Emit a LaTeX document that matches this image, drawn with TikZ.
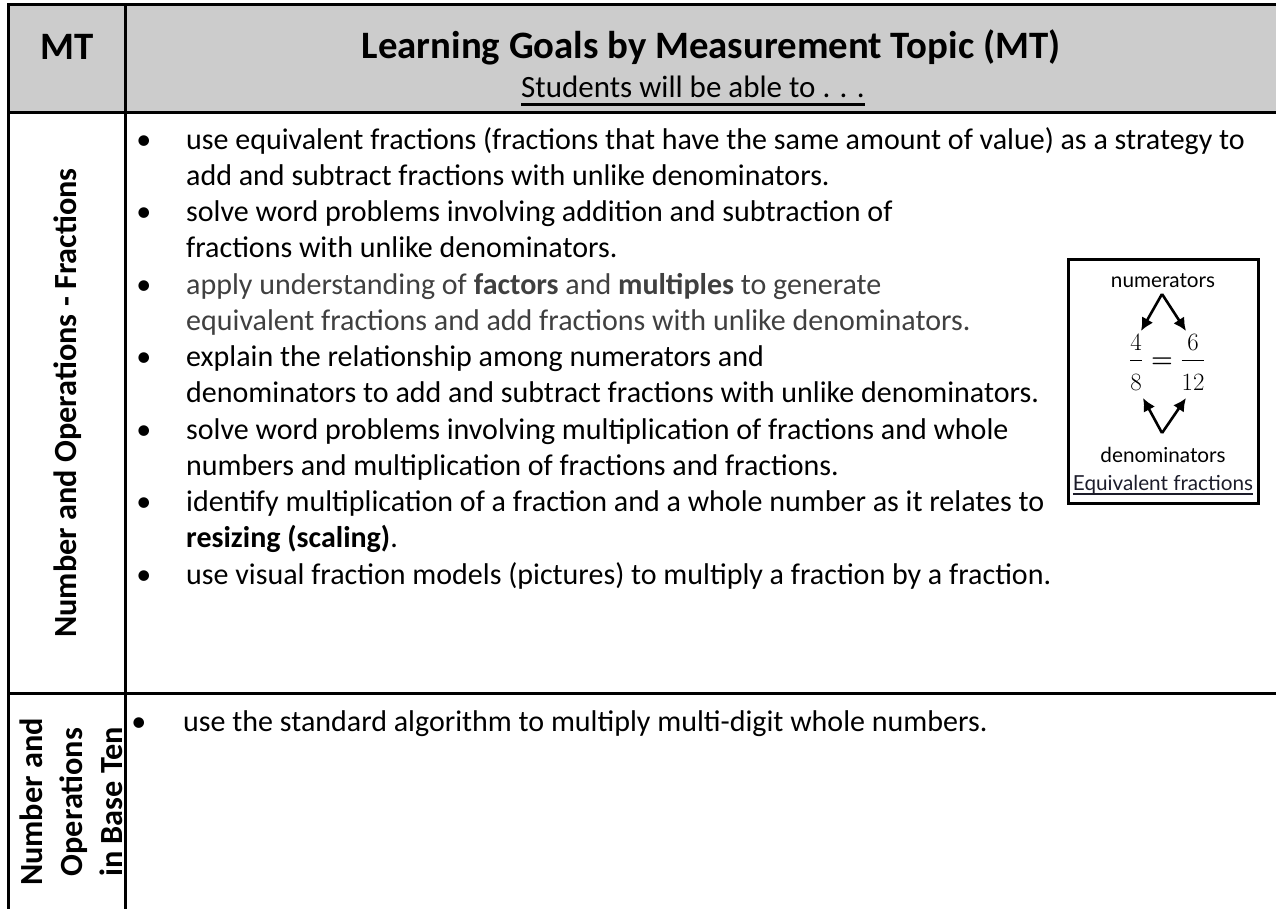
\documentclass[tikz,border=0pt]{standalone}
\usepackage{fontspec}
\setmainfont{Carlito}
\newfontfamily\gillfont{Lato}
\usepackage{tikz}
\usetikzlibrary{positioning, arrows.meta,
calc % for the arrow ends in the small box
}
\usepackage{amsmath}

\definecolor{headgray}{HTML}{CCCCCC}
\definecolor{applygray}{HTML}{404040}
\definecolor{eqink}{HTML}{1C1C2A}
\newcommand{\gb}[1][35pt]{\llap{\textbullet\hspace{#1}}}
\newcommand{\tallfrac}[2]{\dfrac{#1}{\raisebox{-6pt}{$#2$}}}
% underline with own depth and thickness
\newcommand{\inkline}[3]{\setbox0\hbox{#3}\rlap{\rule[-#1]{\wd0}{#2}}\box0}

\begin{document}
\begin{tikzpicture}[x=1pt, y=1pt, node distance=0pt,
    rule/.style={line width=3pt},
    goal/.style={anchor=north west, align=left, inner sep=0pt,
      font=\fontsize{30}{36.25}\selectfont,
      execute at begin node=\strut},
    topic/.style={rotate=90, align=center, inner sep=0pt,
      font=\fontsize{32.3}{40}\selectfont\bfseries},
    small/.style={font=\gillfont\fontsize{20.7}{24}\selectfont, inner sep=0pt},
    fracnum/.style={font=\fontsize{24}{28}\selectfont, inner sep=0pt, anchor=base},
    arr/.style={-{Latex[length=13pt,width=13pt]}, line width=2.6pt}]
    \useasboundingbox (0,0) rectangle (1276,-909);
    % table
    \fill[headgray] (8,-5) rectangle (1276,-113);
    \draw[rule] (8,-5) -- (1276,-5);
    \draw[rule] (8,-113) -- (1276,-113);
    \draw[rule] (8,-693) -- (1276,-693);
    \draw[rule] (8,-3.5) -- (8,-909);
    \draw[rule] (125,-5) -- (125,-909);
    % header
    \node[font=\fontsize{38.8}{44}\selectfont\bfseries] (mt) at (67,-47) {MT};
    \node[font=\fontsize{38.8}{44}\selectfont\bfseries] (title) at (711,-47) {Learning Goals by Measurement Topic (MT)};
    \node[font=\fontsize{31}{36}\selectfont] (able) at (693,-91) {\inkline{7.6pt}{2.6pt}{Students will be able to . . .}};
    % topics
    \node[topic] (fractopic) at (68,-403) {Number and Operations - Fractions};
    \node[topic] (basetopic) at (71,-802) {Number and\\Operations\\in Base Ten};
    % goals
    \node[goal] (fracgoals) at (186,-127) {\gb use equivalent fractions (fractions that have the same amount of value) as a strategy to\\
      add and subtract fractions with unlike denominators.\\
      \gb solve word problems involving addition and subtraction of\\
      fractions with unlike denominators.\\
      \gb {\color{applygray}apply understanding of \textbf{factors} and \textbf{multiples} to generate}\\
      {\color{applygray}equivalent fractions and add fractions with unlike denominators.}\\
      \gb explain the relationship among numerators and\\
      denominators to add and subtract fractions with unlike denominators.\\
      \gb solve word problems involving multiplication of fractions and whole\\
      numbers and multiplication of fractions and fractions.\\
      \gb identify multiplication of a fraction and a whole number as it relates to\\
      \textbf{resizing (scaling)}.\\
      \gb use visual fraction models (pictures) to multiply a fraction by a fraction.};
    \node[goal] (basegoals) at (183,-706) {\gb[37pt]use the standard algorithm to multiply multi-digit whole numbers.};
    % equivalent fractions box
    \draw[line width=3pt] (1068,-260) rectangle (1258,-503);
    \node[small] (numer) at (1163,-281) {numerators};
    \node[fracnum] (fa) at (1136,-367) {$\tallfrac{4}{8}$};
    \node[fracnum] (eqs) at (1162,-367) {$\boldsymbol{=}$};
    \node[fracnum] (fb) at (1193,-367) {$\tallfrac{6}{12}$};
    \node[small] (denom) at (1163,-455) {denominators};
    \node[small, text=eqink] (eqname) at (1163,-485) {\inkline{4pt}{1.3pt}{Equivalent fractions}};
    \coordinate (apexup) at (1162,-294);
    \coordinate (apexdown) at (1162,-433);
    \coordinate (numa) at (1141,-331);
    \coordinate (numb) at (1186,-331);
    \coordinate (dena) at (1143,-398);
    \coordinate (denb) at (1186,-398);
    \draw[arr] (apexup) -- (numa);
    \draw[arr] (apexup) -- (numb);
    \draw[arr] (apexdown) -- (dena);
    \draw[arr] (apexdown) -- (denb);
  \end{tikzpicture}
\end{document}
